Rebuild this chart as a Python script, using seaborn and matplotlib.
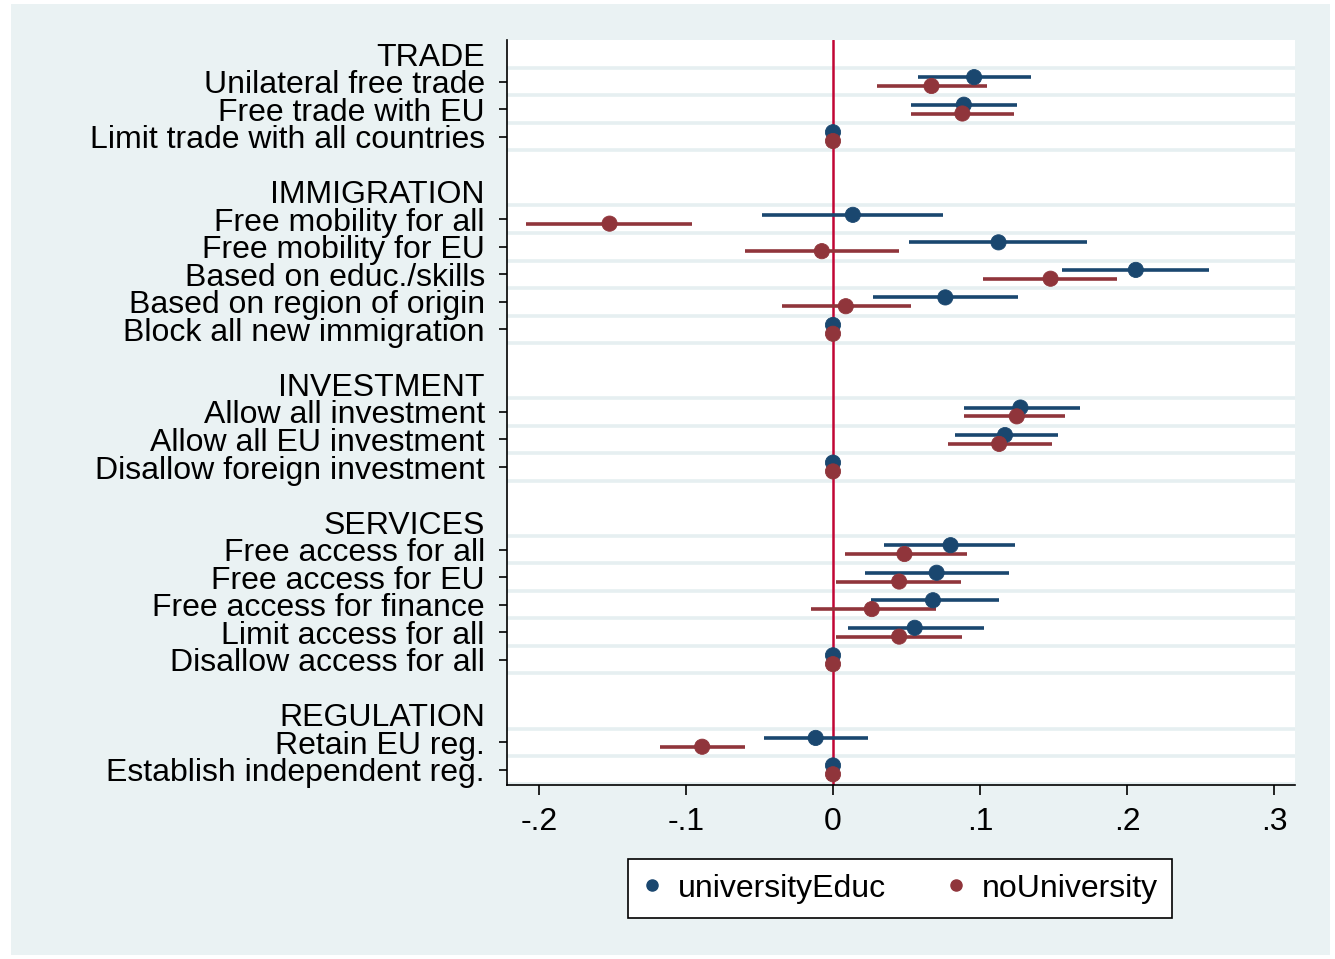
import numpy as np
import pandas as pd
import matplotlib
matplotlib.use("Agg")
import matplotlib.pyplot as plt
from matplotlib.patches import Rectangle
from matplotlib.lines import Line2D
import seaborn as sns

# ---- data -------------------------------------------------------------
sections = ["TRADE", "IMMIGRATION", "INVESTMENT", "SERVICES", "REGULATION"]
section_items = [
    ["Unilateral free trade", "Free trade with EU", "Limit trade with all countries"],
    ["Free mobility for all", "Free mobility for EU", "Based on educ./skills",
     "Based on region of origin", "Block all new immigration"],
    ["Allow all investment", "Allow all EU investment", "Disallow foreign investment"],
    ["Free access for all", "Free access for EU", "Free access for finance",
     "Limit access for all", "Disallow access for all"],
    ["Retain EU reg.", "Establish independent reg."],
]

univ_coef = [0.096, 0.089, 0.0,
             0.0135, 0.1126, 0.206, 0.0764, 0.0,
             0.1275, 0.117, 0.0,
             0.080, 0.0705, 0.068, 0.0556, 0.0,
             -0.0118, 0.0]
univ_lo = [0.058, 0.053, 0.0,
           -0.048, 0.052, 0.156, 0.027, 0.0,
           0.089, 0.083, 0.0,
           0.035, 0.022, 0.026, 0.010, 0.0,
           -0.047, 0.0]
univ_hi = [0.135, 0.125, 0.0,
           0.075, 0.173, 0.256, 0.126, 0.0,
           0.168, 0.153, 0.0,
           0.124, 0.120, 0.113, 0.1025, 0.0,
           0.024, 0.0]

nouni_coef = [0.067, 0.088, 0.0,
              -0.152, -0.0076, 0.148, 0.0087, 0.0,
              0.125, 0.113, 0.0,
              0.0486, 0.045, 0.0264, 0.045, 0.0,
              -0.089, 0.0]
nouni_lo = [0.030, 0.053, 0.0,
            -0.209, -0.060, 0.102, -0.035, 0.0,
            0.089, 0.078, 0.0,
            0.008, 0.002, -0.015, 0.002, 0.0,
            -0.118, 0.0]
nouni_hi = [0.105, 0.123, 0.0,
            -0.096, 0.045, 0.193, 0.053, 0.0,
            0.158, 0.149, 0.0,
            0.091, 0.087, 0.070, 0.088, 0.0,
            -0.060, 0.0]

groups = ["universityEduc", "noUniversity"]
colors = {"universityEduc": "#1a476f", "noUniversity": "#90353b"}
x_ticks = [-0.2, -0.1, 0.0, 0.1, 0.2, 0.3]
x_ticklabels = ["-.2", "-.1", "0", ".1", ".2", ".3"]

# ---- row layout: heading row, item rows, one blank row between sections --
header_pos, item_pos, item_labels = [], [], []
row = 1
for sec, items in zip(sections, section_items):
    header_pos.append(row)
    row += 1
    for it in items:
        item_pos.append(row)
        item_labels.append(it)
        row += 1
    row += 1

offset = {"universityEduc": -0.16, "noUniversity": 0.16}
frames = []
for g, c, lo, hi in [("universityEduc", univ_coef, univ_lo, univ_hi),
                     ("noUniversity", nouni_coef, nouni_lo, nouni_hi)]:
    frames.append(pd.DataFrame({
        "label": item_labels,
        "group": g,
        "coef": c,
        "lo": lo,
        "hi": hi,
        "y": np.array(item_pos, dtype=float) + offset[g],
    }))
df = pd.concat(frames, ignore_index=True)

# ---- figure -------------------------------------------------------------
sns.set_theme(style="white")
plt.rcParams["font.family"] = ["Liberation Sans", "DejaVu Sans"]
plt.rcParams["text.color"] = "black"

FS = 23
W, H = 1335, 959
fig = plt.figure(figsize=(W / 100, H / 100), dpi=100, facecolor="white")
bg = Rectangle((11 / W, 1 - 955 / H), 1319 / W, 951 / H,
               transform=fig.transFigure, facecolor="#eaf2f3",
               edgecolor="none", zorder=-10)
fig.add_artist(bg)
ax = fig.add_axes([507 / W, 1 - 785 / H, (1295 - 507) / W, (785 - 40) / H])
ax.set_zorder(1)
ax.set_facecolor("white")

# light separators above and below every item row
grid_y = sorted(set([p - 0.5 for p in item_pos] + [p + 0.5 for p in item_pos]))
for gy in grid_y:
    ax.axhline(gy, color="#e6eff1", lw=2.6, zorder=1)

ax.axvline(0, color="#c10534", lw=1.8, zorder=2)

# confidence intervals
for g in groups:
    sub = df[df["group"] == g]
    ax.hlines(sub["y"], sub["lo"], sub["hi"], color=colors[g], lw=2.6, zorder=3)

sns.scatterplot(data=df, x="coef", y="y", hue="group", palette=colors,
                hue_order=groups, s=120, marker="o", linewidth=0.6,
                edgecolor=df["group"].map(colors), legend=False, ax=ax, zorder=4)

ax.set_xlim((507 - 833) / 1470, (1295 - 833) / 1470)
ax.set_ylim(27.55, 0.49)

# item rows carry tick marks; section headings sit on minor ticks without marks
TICK_LEN, TICK_PAD = 6, 10
ax.set_yticks(item_pos)
ax.set_yticklabels(item_labels, fontsize=FS, color="black")
ax.set_yticks(header_pos, minor=True)
ax.set_yticklabels(sections, minor=True, fontsize=FS, color="black")
ax.tick_params(axis="y", which="major", direction="out", length=TICK_LEN,
               width=1.2, pad=TICK_PAD, left=True, colors="black")
ax.tick_params(axis="y", which="minor", length=0, pad=TICK_LEN + TICK_PAD,
               left=True, colors="black")

ax.set_xticks(x_ticks)
ax.set_xticklabels(x_ticklabels, fontsize=FS)
ax.tick_params(axis="x", direction="out", length=7, width=1.2, pad=9,
               bottom=True, colors="black")

ax.set_xlabel("")
ax.set_ylabel("")
for side in ["top", "right"]:
    ax.spines[side].set_visible(False)
for side in ["left", "bottom"]:
    ax.spines[side].set_color("black")
    ax.spines[side].set_linewidth(1.2)

handles = [Line2D([], [], marker="o", linestyle="none", markersize=8,
                  markerfacecolor=colors[g], markeredgecolor=colors[g])
           for g in groups]
leg = fig.legend(handles, groups, loc="center",
                 bbox_to_anchor=(900 / W, 1 - 888.5 / H),
                 ncol=2, frameon=True, fancybox=False, fontsize=FS,
                 handletextpad=0.5, columnspacing=1.9, borderpad=0.45,
                 handlelength=0.6, framealpha=1)
leg.get_frame().set_edgecolor("black")
leg.get_frame().set_linewidth(1.2)
leg.get_frame().set_facecolor("white")

fig.savefig("out.png", dpi=100, facecolor="white")
